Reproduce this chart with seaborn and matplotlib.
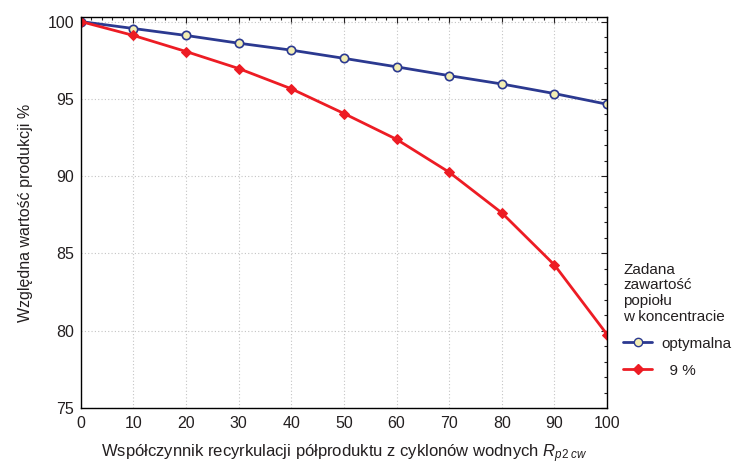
import numpy as np
import pandas as pd
import matplotlib
matplotlib.use("Agg")
import matplotlib.pyplot as plt
import seaborn as sns
from matplotlib.ticker import MultipleLocator
from matplotlib.lines import Line2D

recykl = [0, 10, 20, 30, 40, 50, 60, 70, 80, 90, 100]
optymalna = [100.0, 99.55, 99.1, 98.6, 98.15, 97.62, 97.07, 96.5, 95.96, 95.34, 94.65]
zadana_9 = [100.0, 99.1, 98.06, 96.96, 95.65, 94.05, 92.38, 90.25, 87.62, 84.25, 79.75]

serie = ["optymalna", "  9 %"]
kolory = ["#2b3990", "#ed1c24"]

df = pd.concat([
    pd.DataFrame({"x": recykl, "y": optymalna, "seria": serie[0]}),
    pd.DataFrame({"x": recykl, "y": zadana_9, "seria": serie[1]}),
])

sns.set_style("white")
plt.rcParams["font.family"] = ["Liberation Sans", "DejaVu Sans"]
plt.rcParams["mathtext.fontset"] = "custom"
plt.rcParams["mathtext.it"] = "Liberation Sans:italic"
plt.rcParams["mathtext.rm"] = "Liberation Sans"

fig = plt.figure(figsize=(7.35, 4.70), dpi=100)
ax = fig.add_axes([0.110, 0.132, 0.716, 0.832])

sns.lineplot(
    data=df, x="x", y="y", hue="seria", style="seria",
    palette=kolory, markers=["o", "D"], dashes=False,
    linewidth=2, ax=ax, legend=False,
)
# markery: niebieskie kółka z jasnym wypełnieniem, czerwone romby
lines = ax.get_lines()
lines[0].set_markerfacecolor("#f3eeb4")
lines[0].set_markeredgecolor("#2b3990")
lines[0].set_markersize(6)
lines[0].set_markeredgewidth(1.2)
lines[1].set_markerfacecolor("#ed1c24")
lines[1].set_markeredgecolor("#ed1c24")
lines[1].set_markersize(5)

ax.set_xlim(0, 100)
ax.set_ylim(75, 100.3)
ax.xaxis.set_major_locator(MultipleLocator(10))
ax.xaxis.set_minor_locator(MultipleLocator(2))
ax.yaxis.set_major_locator(MultipleLocator(5))
ax.yaxis.set_minor_locator(MultipleLocator(1))
ax.tick_params(which="both", direction="in", top=True, right=True, labelsize=11.5, colors="#231f20")
ax.tick_params(which="major", length=4, width=0.8)
ax.tick_params(which="minor", length=2.5, width=0.8)
ax.tick_params(axis="x", pad=6)
ax.tick_params(axis="y", pad=5)
ax.grid(True, which="major", linestyle=(0, (1, 2)), color="#c4c4c4", linewidth=0.8)
for s in ax.spines.values():
    s.set_visible(True)
    s.set_color("black")
    s.set_linewidth(1.0)

ax.set_xlabel("Współczynnik recyrkulacji półproduktu z cyklonów wodnych $R_{p2\\ cw}$",
              fontsize=12, color="#231f20", labelpad=8)
ax.set_ylabel("Względna wartość produkcji %", fontsize=11.5, color="#231f20", labelpad=10)

uchwyty = [
    Line2D([], [], color=kolory[0], lw=2, marker="o", markersize=6,
           markerfacecolor="#f3eeb4", markeredgecolor=kolory[0]),
    Line2D([], [], color=kolory[1], lw=2, marker="D", markersize=5,
           markerfacecolor=kolory[1], markeredgecolor=kolory[1]),
]
leg = fig.legend(uchwyty, serie, title="Zadana\nzawartość\npopiołu\nw koncentracie",
                 loc="upper left", bbox_to_anchor=(0.848, 0.441), frameon=False,
                 fontsize=11, title_fontsize=11, handlelength=1.9,
                 handletextpad=0.6, labelspacing=0.85, borderaxespad=0,
                 borderpad=0)
leg._legend_box.align = "left"
leg.get_title().set_linespacing(1.15)
plt.setp(leg.get_texts(), color="#231f20")
leg.get_title().set_color("#231f20")

fig.savefig("out.png", dpi=100)
